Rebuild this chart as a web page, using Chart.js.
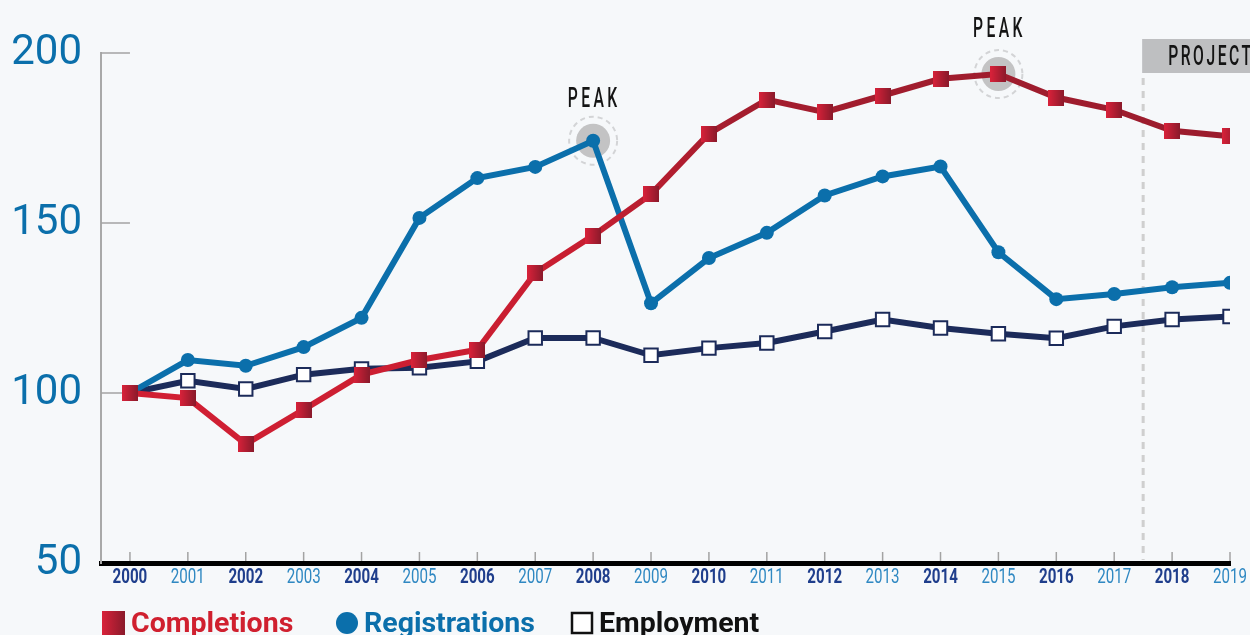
<!DOCTYPE html>
<html>
<head>
<meta charset="utf-8">
<script src="https://cdn.jsdelivr.net/npm/chart.js@4.4.0/dist/chart.umd.min.js"></script>
<style>
  html, body { margin: 0; padding: 0; background: #f6f8fa; }
  #wrap { position: relative; width: 1250px; height: 635px; overflow: hidden; }
</style>
</head>
<body>
<div id="wrap"><canvas id="chart"></canvas></div>
<script>
// index values, 2000 = 100
const years = ['2000', '2001', '2002', '2003', '2004', '2005', '2006', '2007', '2008', '2009',
  '2010', '2011', '2012', '2013', '2014', '2015', '2016', '2017', '2018', '2019'];
const completions = [100, 98.5, 85, 95.1, 105.4, 109.7, 112.7, 135.3, 146.3, 158.5,
  176.3, 186.3, 182.6, 187.5, 192.4, 193.8, 186.9, 183.3, 177.1, 175.5];
const registrations = [100, 109.7, 108, 113.5, 122.1, 151.5, 163.2, 166.5, 174.2, 126.4,
  139.7, 147.1, 158.1, 163.7, 166.6, 141.4, 127.6, 129.1, 131.1, 132.4];
const employment = [100, 103.6, 101.2, 105.4, 107.1, 107.4, 109.3, 116.2, 116.2, 111.1,
  113.2, 114.7, 118.1, 121.6, 119.1, 117.4, 116.1, 119.6, 121.6, 122.5];
const yTicks = [50, 100, 150, 200];
const peaks = [{ series: 'registrations', index: 8 }, { series: 'completions', index: 15 }];
const projectionStart = 17.5;

const RED = '#cf1f31';
const BLUE = '#0b6fab';
const NAVY = '#1c2b5a';

// small red square with left-to-right shading, used as point style
function shadedSquare(size) {
  const c = document.createElement('canvas');
  c.width = size;
  c.height = size;
  const g = c.getContext('2d');
  const grad = g.createLinearGradient(0, 0, size, 0);
  grad.addColorStop(0, '#d9223a');
  grad.addColorStop(1, '#8a1a2b');
  g.fillStyle = grad;
  g.fillRect(0, 0, size, size);
  return c;
}
const redSquare = shadedSquare(16);

function redLine(context) {
  const { ctx, chartArea } = context.chart;
  if (!chartArea) return RED;
  const grad = ctx.createLinearGradient(chartArea.left, 0, chartArea.right, 0);
  grad.addColorStop(0, '#d21f33');
  grad.addColorStop(0.42, '#c81e31');
  grad.addColorStop(0.56, '#a41d2e');
  grad.addColorStop(1, '#9b1c2d');
  return grad;
}

// text squeezed horizontally, no condensed face is available
function narrowText(ctx, text, x, y, squeeze, align) {
  ctx.save();
  ctx.translate(x, y);
  ctx.scale(squeeze, 1);
  ctx.textAlign = align;
  ctx.fillText(text, 0, 0);
  ctx.restore();
}

const decor = {
  id: 'decor',
  beforeDatasetsDraw(chart) {
    const { ctx, chartArea, scales: { x, y } } = chart;
    ctx.save();

    // short inner tick marks
    ctx.strokeStyle = '#a3a3a3';
    ctx.lineWidth = 1.5;
    years.forEach((_, i) => {
      const px = x.getPixelForValue(i);
      ctx.beginPath();
      ctx.moveTo(px, chartArea.bottom - 11);
      ctx.lineTo(px, chartArea.bottom - 2);
      ctx.stroke();
    });
    yTicks.slice(1).forEach(v => {
      const py = y.getPixelForValue(v);
      ctx.beginPath();
      ctx.moveTo(chartArea.left, py);
      ctx.lineTo(x.getPixelForValue(0), py);
      ctx.stroke();
    });

    // projection divider
    const projX = x.getPixelForValue(projectionStart);
    ctx.strokeStyle = '#cfcfcf';
    ctx.lineWidth = 3;
    ctx.setLineDash([7, 6]);
    ctx.beginPath();
    ctx.moveTo(projX, 78);
    ctx.lineTo(projX, chartArea.bottom - 3);
    ctx.stroke();
    ctx.setLineDash([]);
    ctx.fillStyle = '#bebfc1';
    ctx.fillRect(projX - 1, 39, chart.width - projX + 1, 34);

    // peak highlights
    const series = { completions, registrations };
    peaks.forEach(p => {
      const px = x.getPixelForValue(p.index);
      const py = y.getPixelForValue(series[p.series][p.index]);
      ctx.fillStyle = '#c3c3c4';
      ctx.beginPath();
      ctx.arc(px, py, 17, 0, Math.PI * 2);
      ctx.fill();
      ctx.strokeStyle = '#d3d4d6';
      ctx.lineWidth = 2;
      ctx.setLineDash([5, 4]);
      ctx.beginPath();
      ctx.arc(px, py, 24, 0, Math.PI * 2);
      ctx.stroke();
      ctx.setLineDash([]);
    });
    ctx.restore();
  },
  afterDraw(chart) {
    const { ctx, chartArea, scales: { x } } = chart;
    ctx.save();
    ctx.textBaseline = 'alphabetic';

    // year labels, even years bold
    years.forEach((label, i) => {
      const bold = i % 2 === 0;
      ctx.font = (bold ? 'bold ' : '') + '21px Roboto, sans-serif';
      ctx.fillStyle = bold ? '#1f3e8c' : '#2f88c2';
      narrowText(ctx, label, x.getPixelForValue(i), chartArea.bottom + 20, 0.72, 'center');
    });

    // labels above the peaks and in the projection box
    ctx.fillStyle = '#141414';
    ctx.font = '500 28px Roboto, sans-serif';
    ctx.letterSpacing = '6px';
    narrowText(ctx, 'PEAK', x.getPixelForValue(8) + 1, 107, 0.56, 'center');
    narrowText(ctx, 'PEAK', x.getPixelForValue(15) + 1, 37, 0.56, 'center');
    ctx.letterSpacing = '4.5px';
    narrowText(ctx, 'PROJECT', x.getPixelForValue(projectionStart) + 25, 65, 0.56, 'left');
    ctx.letterSpacing = '0px';

    // legend
    const grad = ctx.createLinearGradient(102, 0, 125, 0);
    grad.addColorStop(0, '#d9223a');
    grad.addColorStop(1, '#8a1a2b');
    ctx.fillStyle = grad;
    ctx.fillRect(102, 611, 23, 24);

    ctx.fillStyle = BLUE;
    ctx.beginPath();
    ctx.arc(347, 623, 11, 0, Math.PI * 2);
    ctx.fill();

    ctx.fillStyle = '#ffffff';
    ctx.fillRect(572, 613, 20, 20);
    ctx.strokeStyle = '#111111';
    ctx.lineWidth = 2.5;
    ctx.strokeRect(572, 613, 20, 20);

    ctx.font = 'bold 28.5px Roboto, sans-serif';
    ctx.textAlign = 'left';
    ctx.fillStyle = '#d0202f';
    ctx.fillText('Completions', 131, 632);
    ctx.fillStyle = BLUE;
    ctx.fillText('Registrations', 364, 632);
    ctx.fillStyle = '#111111';
    ctx.fillText('Employment', 599, 632);
    ctx.restore();
  }
};

const toPoints = arr => arr.map((v, i) => ({ x: i, y: v }));

new Chart(document.getElementById('chart'), {
  type: 'line',
  data: {
    datasets: [
      {
        label: 'Completions',
        data: toPoints(completions),
        borderColor: redLine,
        borderWidth: 6,
        pointStyle: redSquare,
        pointRadius: 8,
        tension: 0
      },
      {
        label: 'Registrations',
        data: toPoints(registrations),
        borderColor: BLUE,
        backgroundColor: BLUE,
        borderWidth: 6,
        pointStyle: 'circle',
        pointRadius: 7,
        pointBorderWidth: 0,
        pointBackgroundColor: BLUE,
        tension: 0
      },
      {
        label: 'Employment',
        data: toPoints(employment),
        borderColor: NAVY,
        borderWidth: 6,
        pointStyle: 'rect',
        pointRadius: 9.5,
        pointBorderWidth: 2,
        pointBorderColor: NAVY,
        pointBackgroundColor: '#ffffff',
        tension: 0
      }
    ]
  },
  options: {
    responsive: true,
    maintainAspectRatio: false,
    animation: false,
    devicePixelRatio: 1,
    layout: { padding: { top: 53, right: 20, left: 0, bottom: 0 } },
    plugins: {
      legend: { display: false },
      tooltip: { enabled: false }
    },
    scales: {
      x: {
        type: 'linear',
        min: -0.5,
        max: years.length - 1,
        afterBuildTicks: scale => {
          scale.ticks = years.map((_, i) => ({ value: i }));
        },
        afterFit: scale => { scale.height = 72; },
        grid: { display: false },
        border: { display: true, color: '#000000', width: 5 },
        ticks: { display: false }
      },
      y: {
        min: 50,
        max: 200,
        afterBuildTicks: scale => {
          scale.ticks = yTicks.map(v => ({ value: v }));
        },
        afterFit: scale => { scale.width = 101; },
        grid: { display: false },
        border: { display: true, color: '#a9a9a9', width: 2 },
        ticks: {
          padding: 11,
          color: BLUE,
          font: { family: 'Roboto, sans-serif', size: 42 }
        }
      }
    }
  },
  plugins: [decor]
});
</script>
</body>
</html>
